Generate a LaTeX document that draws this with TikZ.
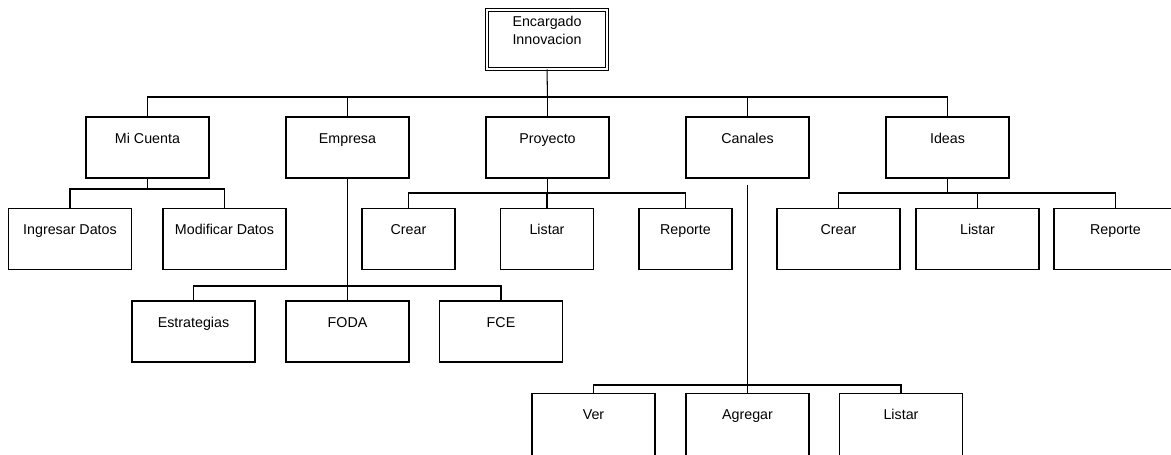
\documentclass[tikz,border=0pt]{standalone}
\usepackage{fontspec}
\setmainfont{Liberation Sans}
\usetikzlibrary{positioning}

\tikzset{
    caja/.style={draw, rectangle, line width=0.8pt, inner ysep=0pt,
        text height=19.5pt, text depth=26.25pt,
        font=\fontsize{10.7pt}{13.3pt}\selectfont},
    ancha/.style={caja, minimum width=92.25pt},
    angosta/.style={caja, minimum width=69.75pt},
    linea/.style={draw, line width=0.8pt}
}

\begin{document}
\begin{tikzpicture}[x=0.75pt, y=-0.75pt]
    \useasboundingbox (0,0) rectangle (1171,454);
    % Root
    \node[draw, double, line width=0.75pt, double distance=1.5pt, inner ysep=0pt,
          minimum width=90pt, text height=25.5pt, text depth=18.75pt, align=center,
          font=\fontsize{10.7pt}{13.3pt}\selectfont] (encargado) at (547,39.5) {Encargado\\Innovacion};
    \coordinate (busTop) at (547.5,97);
    \draw[linea] (encargado.south) -- (busTop);
    % Level 2
    \foreach \x/\n/\t in {147.5/cuenta/Mi Cuenta, 347.5/empresa/Empresa, 547.5/proyecto/Proyecto,
                          747.5/canales/Canales, 947.5/ideas/Ideas} {
        \node[ancha] (\n) at (\x,147.5) {\t};
        \draw[linea] (\n.north) |- (busTop);
    }
    % Mi Cuenta
    \coordinate (busCuenta) at (147.5,189);
    \draw[linea] (cuenta.south) -- (busCuenta);
    \foreach \x/\n/\t in {70/ingresar/Ingresar Datos, 224.5/modificar/Modificar Datos} {
        \node[ancha] (\n) at (\x,239) {\t};
        \draw[linea] (\n.north) |- (busCuenta);
    }
    % Proyecto
    \coordinate (busProyecto) at (547.5,193);
    \draw[linea] (proyecto.south) -- (busProyecto);
    \foreach \x/\n/\t in {408.5/pCrear/Crear, 547/pListar/Listar, 685.5/pReporte/Reporte} {
        \node[angosta] (\n) at (\x,239) {\t};
        \draw[linea] (\n.north) |- (busProyecto);
    }
    % Ideas
    \coordinate (busIdeas) at (947.5,193);
    \draw[linea] (ideas.south) -- (busIdeas);
    \foreach \x/\n/\t in {838.5/iCrear/Crear, 977.5/iListar/Listar, 1115.5/iReporte/Reporte} {
        \node[ancha] (\n) at (\x,239) {\t};
        \draw[linea] (\n.north) |- (busIdeas);
    }
    % Empresa
    \coordinate (busEmpresa) at (347.5,286);
    \draw[linea] (empresa.south) -- (busEmpresa);
    \foreach \x/\n/\t in {193.5/estrategias/Estrategias, 347.5/foda/FODA, 501/fce/FCE} {
        \node[ancha] (\n) at (\x,331.5) {\t};
        \draw[linea] (\n.north) |- (busEmpresa);
    }
    % Canales
    \coordinate (canIni) at (747.5,185);
    \coordinate (busCanales) at (747.5,385);
    \draw[linea] (canIni) -- (busCanales);
    \foreach \x/\n/\t in {593.5/ver/Ver, 747.5/agregar/Agregar, 901/cListar/Listar} {
        \node[ancha, anchor=north, text depth=28pt] (\n) at (\x,393) {\t};
        \draw[linea] (\n.north) |- (busCanales);
    }
\end{tikzpicture}
\end{document}
